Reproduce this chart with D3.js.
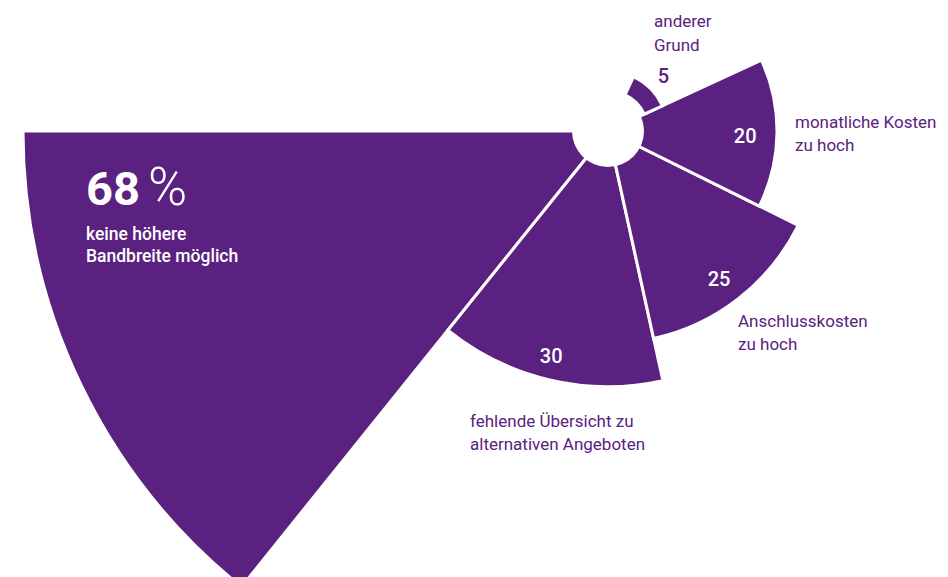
<!DOCTYPE html>
<html>
<head>
<meta charset="utf-8">
<script src="https://cdn.jsdelivr.net/npm/d3@7"></script>
<style>
  html, body { margin: 0; padding: 0; background: #ffffff; }
  svg { display: block; }
  text { font-family: Roboto, "Noto Sans", sans-serif; }
</style>
</head>
<body>
<svg id="chart" width="948" height="577"></svg>
<script>
// Reasons given for not switching to a faster connection (share of answers, %)
const categories = [
  "keine höhere Bandbreite möglich",
  "fehlende Übersicht zu alternativen Angeboten",
  "Anschlusskosten zu hoch",
  "monatliche Kosten zu hoch",
  "anderer Grund"
];
const labelLines = [
  ["keine höhere", "Bandbreite möglich"],
  ["fehlende Übersicht zu", "alternativen Angeboten"],
  ["Anschlusskosten", "zu hoch"],
  ["monatliche Kosten", "zu hoch"],
  ["anderer", "Grund"]
];
const values = [68, 30, 25, 20, 5];
const valueLabels = ["68", "30", "25", "20", "5"];

// ---- layout ----
const W = 948, H = 577;
const cx = 608, cy = 131;
const purple = "#5b2180";
const holeR = 36;
const deg = Math.PI / 180;
const slot = 51.2 * deg;     // angular width of each wedge
const smallSpan = 40 * deg;  // narrower wedge for very small shares
const smallInner = 40, smallOuter = 60;

// wedge length grows linearly with the share
const r = d3.scaleLinear().domain([20, 68]).range([169, 585]);

const svg = d3.select("#chart");
const g = svg.append("g").attr("transform", `translate(${cx},${cy})`);

const wedges = values.map((v, i) => {
  const end = 1.5 * Math.PI - i * slot;          // counter-clockwise from 9 o'clock
  const small = v < 10;
  const start = end - (small ? smallSpan : slot);
  return {
    value: v, i, small,
    startAngle: start, endAngle: end,
    innerRadius: small ? smallInner : 0,
    outerRadius: small ? Math.max(r(v), smallOuter) : r(v)
  };
});

const arc = d3.arc();

g.selectAll("path.wedge")
  .data(wedges)
  .join("path")
  .attr("class", "wedge")
  .attr("d", d => arc(d))
  .attr("fill", purple)
  .attr("stroke", "#ffffff")
  .attr("stroke-width", 3)
  .attr("stroke-linejoin", "miter");

// white hub
g.append("circle").attr("r", holeR).attr("fill", "#ffffff");

// value numbers near the rim of each wedge (the biggest one gets its own headline)
wedges.filter(d => d.i > 0).forEach(d => {
  const mid = (d.startAngle + d.endAngle) / 2 + (d.small ? 0 : 1 * deg);
  const rr = d.small ? d.outerRadius + 18 : d.outerRadius * 1.09 - 47;
  g.append("text")
    .attr("x", Math.sin(mid) * rr)
    .attr("y", -Math.cos(mid) * rr)
    .attr("dy", "0.36em")
    .attr("text-anchor", "middle")
    .attr("font-size", 20)
    .attr("font-weight", 500)
    .attr("fill", d.small ? purple : "#ffffff")
    .text(valueLabels[d.i]);
});

// headline for the largest share
const head = svg.append("text")
  .attr("x", 86).attr("y", 205)
  .attr("fill", "#ffffff");
head.append("tspan").attr("font-size", 47).attr("font-weight", 700).text(valueLabels[0]);
head.append("tspan").attr("dx", 8).attr("font-size", 53).attr("font-weight", 300).text("%");

// category captions
const captionPos = [
  { x: 86,  y: 240, fill: "#ffffff", weight: 500, size: 17.5, lh: 22 },
  { x: 470, y: 427, fill: purple, weight: 400, size: 17, lh: 23 },
  { x: 738, y: 327, fill: purple, weight: 400, size: 17, lh: 23 },
  { x: 795, y: 128, fill: purple, weight: 400, size: 17, lh: 23 },
  { x: 654, y: 27,  fill: purple, weight: 400, size: 17, lh: 24 }
];

labelLines.forEach((lines, i) => {
  const p = captionPos[i];
  const t = svg.append("text")
    .attr("x", p.x).attr("y", p.y)
    .attr("font-size", p.size)
    .attr("font-weight", p.weight)
    .attr("fill", p.fill);
  lines.forEach((line, k) => {
    t.append("tspan").attr("x", p.x).attr("dy", k === 0 ? 0 : p.lh).text(line);
  });
});
</script>
</body>
</html>
